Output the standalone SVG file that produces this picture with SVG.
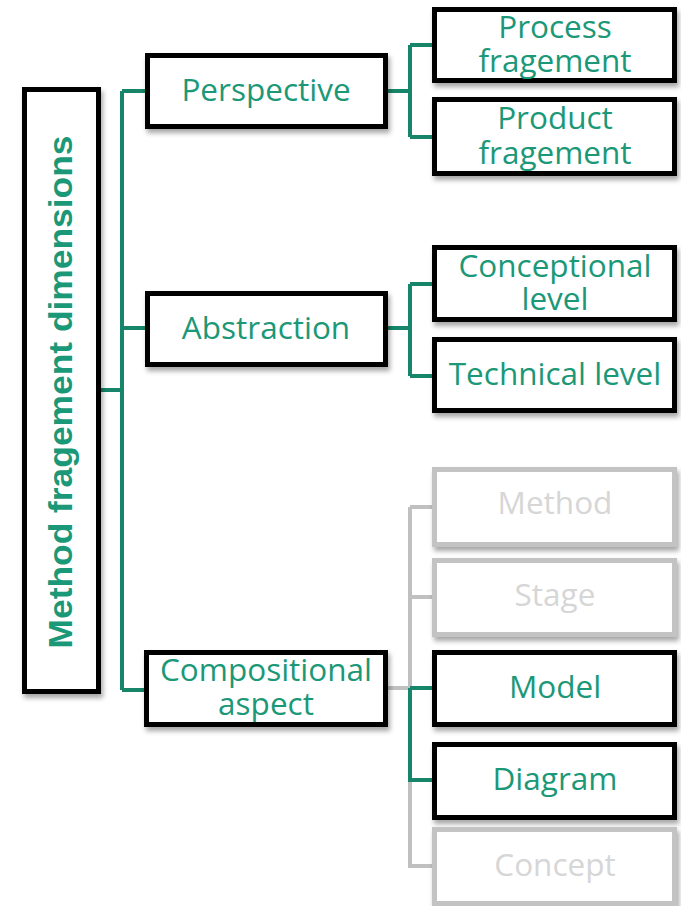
<svg xmlns="http://www.w3.org/2000/svg" width="681" height="906" viewBox="0 0 681 906">
<defs>
<filter id="sh" x="-10%" y="-10%" width="130%" height="140%">
<feDropShadow dx="2" dy="4" stdDeviation="2.5" flood-color="#000" flood-opacity="0.35"/>
</filter>
<style>
.box{fill:#fff;stroke:#000;stroke-width:5;filter:url(#sh)}
.gbox{fill:#fff;stroke:#c3c3c3;stroke-width:5;filter:url(#sh)}
.t{font-family:"Open Sans","Noto Sans",sans-serif;font-size:31.5px;fill:#1b9877;text-anchor:middle}
.gt{font-family:"Open Sans","Noto Sans",sans-serif;font-size:31.5px;fill:#d6d6d6;text-anchor:middle}
.c{fill:none;stroke:#168569;stroke-width:4}
.gc{fill:none;stroke:#c0c0c0;stroke-width:4}
</style>
</defs>
<g id="connectors">
<path class="c" d="M101 390 H122 M122 91 V690 M122 91 H147 M122 328 H147 M122 690 H145"/>
<path class="c" d="M388 91 H410 M410 45 V137 M410 45 H434 M410 137 H434"/>
<path class="c" d="M388 328 H410 M410 284 V376 M410 284 H434 M410 376 H434"/>
<path class="gc" d="M388 688 H410 M410 507 V688 M410 507 H434 M410 597 H434 M410 780 V866 H434"/>
<path class="c" d="M410 688 V782 M410 688 H434 M410 780 H434"/>
</g>
<g id="root">
<rect class="box" x="24.5" y="89.5" width="74" height="602"/>
<text transform="translate(72 392) rotate(-90)" textLength="513" lengthAdjust="spacingAndGlyphs" style="font-family:'Liberation Sans',Arial,sans-serif;font-weight:bold;font-size:33px;fill:#1b9877;text-anchor:middle">Method fragement dimensions</text>
</g>
<g id="perspective">
<rect class="box" x="147.5" y="55.5" width="238" height="71"/>
<text class="t" x="266" y="101">Perspective</text>
</g>
<g id="abstraction">
<rect class="box" x="147.5" y="293.5" width="238" height="71"/>
<text class="t" x="266" y="339">Abstraction</text>
</g>
<g id="compositional">
<rect class="box" x="146.5" y="652.5" width="239" height="72"/>
<text class="t" x="266" y="681">Compositional</text>
<text class="t" x="266" y="715">aspect</text>
</g>
<g id="process">
<rect class="box" x="434.5" y="9.5" width="240" height="71"/>
<text class="t" x="555" y="38">Process</text>
<text class="t" x="555" y="72">fragement</text>
</g>
<g id="product">
<rect class="box" x="434.5" y="99.5" width="240" height="74"/>
<text class="t" x="555" y="129">Product</text>
<text class="t" x="555" y="164">fragement</text>
</g>
<g id="conceptional">
<rect class="box" x="434.5" y="247.5" width="240" height="72"/>
<text class="t" x="555" y="277">Conceptional</text>
<text class="t" x="555" y="310">level</text>
</g>
<g id="technical">
<rect class="box" x="434.5" y="339.5" width="240" height="71"/>
<text class="t" x="555" y="385">Technical level</text>
</g>
<g id="method">
<rect class="gbox" x="434.5" y="469.5" width="240" height="75"/>
<text class="gt" x="555" y="514">Method</text>
</g>
<g id="stage">
<rect class="gbox" x="434.5" y="560.5" width="240" height="74"/>
<text class="gt" x="555" y="606">Stage</text>
</g>
<g id="model">
<rect class="box" x="434.5" y="652.5" width="240" height="72"/>
<text class="t" x="555" y="698">Model</text>
</g>
<g id="diagram">
<rect class="box" x="434.5" y="744.5" width="240" height="73"/>
<text class="t" x="555" y="790">Diagram</text>
</g>
<g id="concept">
<rect class="gbox" x="434.5" y="829.5" width="240" height="74"/>
<text class="gt" x="555" y="876">Concept</text>
</g>
</svg>
